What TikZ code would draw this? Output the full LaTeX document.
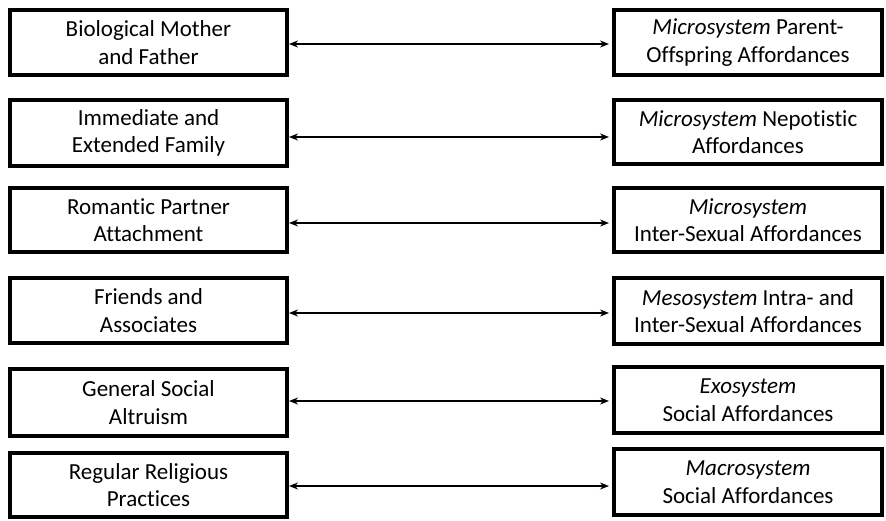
\documentclass[tikz,border=0pt]{standalone}
\usepackage{fontspec}
\setmainfont{Carlito}[Ligatures={NoCommon}]
\usetikzlibrary{arrows.meta}
\begin{document}
\begin{tikzpicture}[x=1pt,y=-1pt,
  lbox/.style={draw=black,line width=4pt,minimum width=277pt,inner sep=0pt,align=center,font=\fontsize{23}{27.5}\selectfont},
  rbox/.style={draw=black,line width=4pt,minimum width=268pt,inner sep=0pt,align=center,font=\fontsize{23}{27.5}\selectfont},
  link/.style={line width=1.8pt,{Stealth[length=9pt,width=7pt]}-{Stealth[length=9pt,width=7pt]}}]
\useasboundingbox (0,0) rectangle (886,521);
\node[lbox,minimum height=65pt] (L1) at (148.5,42.5) {Biological Mother\\and Father};
\node[lbox,minimum height=66pt] (L2) at (148.5,133) {Immediate and\\Extended Family};
\node[lbox,minimum height=64pt] (L3) at (148.5,220) {Romantic Partner\\Attachment};
\node[lbox,minimum height=65pt] (L4) at (148.5,310.5) {Friends and\\Associates};
\node[lbox,minimum height=67pt] (L5) at (148.5,402.5) {General Social\\Altruism};
\node[lbox,minimum height=64pt] (L6) at (148.5,485) {Regular Religious\\Practices};
\node[rbox,minimum height=65pt] (R1) at (748,42.5) {\textit{Microsystem} Parent-\\Offspring Affordances};
\node[rbox,minimum height=64pt] (R2) at (748,132) {\textit{Microsystem} Nepotistic\\Affordances};
\node[rbox,minimum height=64pt] (R3) at (748,220) {\textit{Microsystem}\\Inter-Sexual Affordances};
\node[rbox,minimum height=66pt] (R4) at (748,311) {\textit{Mesosystem} Intra- and\\Inter-Sexual Affordances};
\node[rbox,minimum height=66pt] (R5) at (748,400) {\textit{Exosystem}\\Social Affordances};
\node[rbox,minimum height=66pt] (R6) at (748,482) {\textit{Macrosystem}\\Social Affordances};
\draw[link] ([yshift=-1.5pt]L1.east) -- ([xshift=-3pt,yshift=-1.5pt]R1.west);
\draw[link] ([yshift=-4pt]L2.east) -- ([xshift=-3pt,yshift=-5pt]R2.west);
\draw[link] ([yshift=-3pt]L3.east) -- ([xshift=-3pt,yshift=-3pt]R3.west);
\draw[link] ([yshift=-2.5pt]L4.east) -- ([xshift=-3pt,yshift=-2pt]R4.west);
\draw[link] ([yshift=1.5pt]L5.east) -- ([xshift=-3pt,yshift=-1pt]R5.west);
\draw[link] ([yshift=-1pt]L6.east) -- ([xshift=-3pt,yshift=-4pt]R6.west);
\end{tikzpicture}
\end{document}
